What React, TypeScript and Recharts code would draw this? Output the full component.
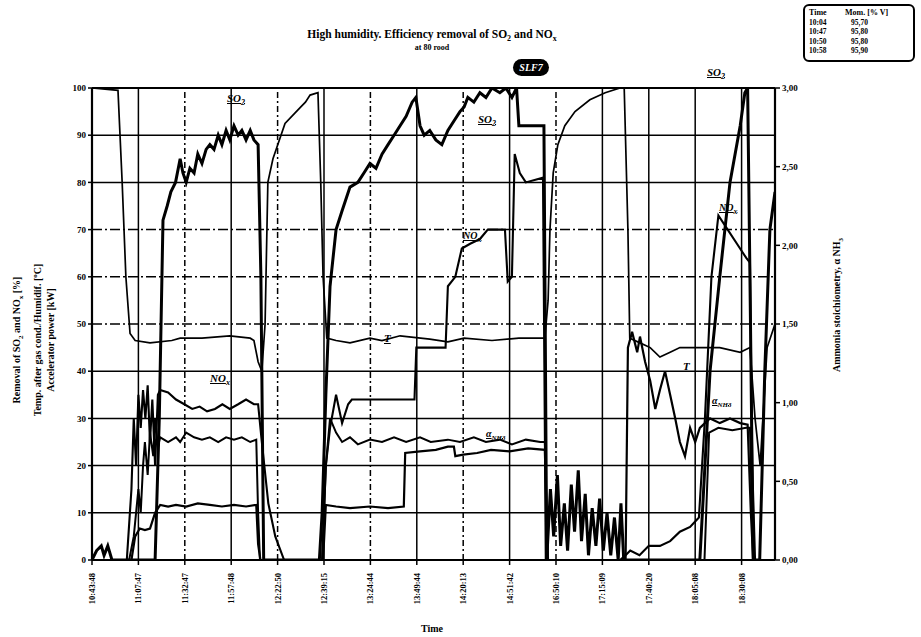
import React from "react";
import { LineChart, Line, XAxis, YAxis, ReferenceLine } from "recharts";

// x is measured in tenths of a tick interval (tick i sits at 10 * i)
const TIME_LABELS = [
  "10:43:48", "11:07:47", "11:32:47", "11:57:48", "12:22:50",
  "12:39:15", "13:24:44", "13:49:44", "14:20:13", "14:51:42",
  "16:50:10", "17:15:09", "17:40:20", "18:05:08", "18:30:08",
];
const X_TICKS = TIME_LABELS.map((_, i) => i * 10);
const LEFT_TICKS = [0, 10, 20, 30, 40, 50, 60, 70, 80, 90, 100];
const RIGHT_TICKS = [0, 0.5, 1, 1.5, 2, 2.5, 3];
const DASHED_ROWS = [50, 60, 70];
const DASHED_COLS = [20, 40, 60, 80, 100];

const SO2 = [
  [0, 0], [1, 2], [2, 3], [2.6, 1], [3.4, 3], [4.3, 0], [13.6, 0], [14.5, 30], [15.3, 72],
  [16.2, 75], [17, 78], [18, 80], [19, 85], [19.6, 82], [20.3, 80], [21.1, 83], [22, 82],
  [22.8, 86], [23.7, 84], [24.6, 87], [25.4, 88], [26.3, 87], [27.2, 90], [28, 88], [28.9, 91],
  [29.7, 89], [30.6, 92], [31.5, 90], [32.3, 91], [33.2, 89], [34.1, 91], [34.9, 89], [35.8, 88],
  [36.4, 60], [37, 0], [49, 0], [49.6, 10], [50.4, 35], [51.3, 58], [52.6, 70], [53.9, 74],
  [55.6, 79], [57.3, 80], [58.6, 82], [59.9, 84], [61.2, 83], [62.5, 86], [63.8, 88], [65.1, 90],
  [66.4, 92], [67.7, 94], [69, 97], [69.8, 98], [70.7, 92], [71.6, 90], [72.8, 91], [74.1, 89],
  [75.4, 88], [76.7, 91], [78, 93], [79.3, 95], [80.2, 96], [81, 98], [82.3, 97], [83.6, 99],
  [84.9, 98], [86.2, 100], [87.9, 99], [89.2, 100], [90.5, 98], [91.5, 100], [92, 92], [93.5, 92],
  [97.4, 92], [98, 0], [98.8, 15], [99.5, 5], [100.3, 18], [101, 3], [101.8, 12], [102.5, 2],
  [103.3, 16], [104, 6], [104.8, 19], [105.5, 4], [106.3, 14], [107, 1], [107.8, 11], [108.6, 3],
  [109.4, 13], [110.2, 2], [111, 10], [111.8, 1], [112.6, 9], [113.4, 0], [114, 12], [114.6, 0],
  [131, 0], [132.1, 20], [133.2, 40], [135.3, 60], [137.5, 80], [139.7, 92], [140.7, 99],
  [141.3, 100], [141.8, 60], [142.5, 0], [143.9, 0], [145, 40], [146.1, 70], [147.2, 78],
];

const TEMP = [
  [0, 100], [5.6, 99.5], [6.5, 80], [7.3, 60], [8.2, 48], [9.3, 46.5], [12.5, 46], [17.2, 46.5],
  [19, 47], [23.7, 47], [29.7, 47.5], [34.1, 47], [34.9, 46.5], [35.8, 42], [36.6, 40],
  [37.3, 50], [37.9, 80], [39, 85], [41.6, 92.5], [44.8, 95.8], [46, 97], [47, 98.5], [48.7, 99],
  [49.3, 80], [49.8, 60], [50.6, 47], [52.6, 46.5], [55.6, 46], [59.9, 47], [62.5, 46.5],
  [66.4, 47.5], [72.8, 46.8], [76.7, 46.2], [80.2, 47], [86.2, 46.5], [92, 47], [97.6, 47],
  [98.3, 55], [98.7, 70], [99.4, 82], [100.4, 88], [101.9, 92], [104.1, 95], [107.3, 97.5],
  [110.6, 99], [113.8, 100], [114.7, 100], [115.5, 70], [115.9, 47], [118.1, 46], [120.3, 45],
  [122.4, 43], [124.6, 44], [126.7, 45], [128.9, 45], [131, 45], [135.3, 45], [139.7, 44],
  [141.8, 45], [142.9, 30], [144, 20], [145.5, 45], [147.2, 50],
];

const POWER = [
  [0, 0], [8, 0], [9, 5], [10, 15], [10.5, 10], [11, 20], [11.4, 25], [12, 18], [12.5, 27],
  [13.2, 22], [13.6, 30], [14.2, 24], [14.7, 26], [16.4, 25], [18.1, 26], [19, 25], [20.3, 27],
  [22, 26], [23.7, 25.5], [25.4, 26], [27.2, 25], [28.9, 26], [30.6, 25.5], [32.3, 26], [34.1, 25],
  [35.4, 25.5], [35.8, 10], [36.2, 0], [49.6, 0], [50.4, 20], [51.3, 30], [52.6, 27], [53.9, 25],
  [55.6, 26], [57.3, 24.5], [59.9, 25.5], [62.5, 25], [65.1, 26], [67.7, 25], [70.7, 26], [73, 25],
  [76.7, 25.5], [79.3, 25], [82.3, 26], [84.9, 25], [87.9, 25.5], [90.5, 24.5], [93.5, 25.5],
  [96.6, 25], [97.6, 25], [98.3, 0], [132, 0], [133, 27], [135, 28], [138, 27.5], [141, 28],
  [141.8, 28], [142.5, 0], [147.2, 0],
];

const NOX = [
  [0, 0], [7.5, 0], [8.5, 15], [9, 30], [9.5, 20], [10, 35], [10.5, 28], [11, 36], [11.5, 30],
  [12, 37], [12.5, 25], [13, 34], [13.6, 20], [14.2, 35], [14.7, 36], [16.4, 35.5], [18.1, 34],
  [19.9, 33], [21.6, 32], [23.2, 32.5], [24.8, 31.5], [26.5, 32], [28.1, 33], [29.7, 32],
  [31.5, 33], [33.2, 34], [34.9, 33], [35.8, 33], [36.6, 25], [38, 12], [39.5, 5], [41.4, 0],
  [49.6, 0], [50.4, 20], [51.3, 28], [52.6, 35], [53.9, 29], [55.2, 33], [56, 34], [69.5, 34],
  [69.9, 45], [76.2, 45], [76.7, 58], [78.3, 60], [79.7, 66], [81.5, 67], [83.6, 68], [85.3, 70],
  [89, 70], [89.6, 59], [90.5, 60], [91.1, 86], [92.2, 82], [93.5, 80], [97.2, 81], [97.8, 0],
  [113.8, 0], [115, 1], [116, 2], [118, 1], [120, 3], [122.4, 3], [124.6, 4], [126.7, 6],
  [128.9, 7], [130.8, 9], [132.1, 30], [133.5, 60], [135, 73], [137, 70], [139, 67], [141, 64],
  [141.8, 63], [142.3, 20], [142.9, 0], [147.2, 0],
];

// ammonia stoichiometry, right axis
const ALPHA = [
  [0, 0], [8.5, 0], [9.3, 0.15], [10.3, 0.2], [11.4, 0.19], [12.5, 0.2], [13.6, 0.3], [14.7, 0.35],
  [16.4, 0.34], [18.1, 0.35], [20.3, 0.34], [22.8, 0.36], [25.4, 0.35], [28, 0.34], [30.6, 0.35],
  [33.2, 0.34], [35.4, 0.35], [35.8, 0.1], [36.3, 0], [49.8, 0], [50.4, 0.35], [52.6, 0.34],
  [55.6, 0.33], [59.9, 0.34], [63.8, 0.33], [67.2, 0.34], [67.5, 0.68], [70.7, 0.69], [74.1, 0.7],
  [76.7, 0.72], [78, 0.72], [78.3, 0.66], [80, 0.67], [83, 0.68], [86, 0.7], [90, 0.69],
  [94, 0.71], [97.6, 0.7], [98.2, 0], [115, 0], [115.5, 1.35], [116.4, 1.45], [117.5, 1.32],
  [118.1, 1.42], [119.2, 1.26], [120.3, 1.14], [121.4, 0.96], [122.4, 1.08], [123.5, 1.2],
  [124.6, 1.05], [125.7, 0.9], [126.7, 0.75], [127.8, 0.66], [128.9, 0.84], [130, 0.75],
  [131, 0.84], [133.2, 0.9], [135.3, 0.87], [137.5, 0.9], [139.7, 0.87], [141.3, 0.86],
  [142, 0.3], [142.5, 0],
];

const toRows = (pts: number[][]) => pts.map(([t, v]) => ({ t, v }));

const FONT = "'Liberation Serif', 'DejaVu Serif', serif";
const tickStyle = { fill: "#000", fontSize: 9, fontWeight: 700, fontFamily: FONT };

const TimeTick = (props: any) => {
  const { x, y, payload } = props;
  return (
    <g transform={`translate(${x},${y})`}>
      <text
        transform="rotate(-90)"
        x={-6}
        y={3}
        textAnchor="end"
        fill="#000"
        fontSize={8.5}
        fontWeight={700}
        fontFamily={FONT}
      >
        {TIME_LABELS[Math.round(payload.value / 10)]}
      </text>
    </g>
  );
};

const note = (left: number, top: number, text: React.ReactNode, size = 11) => (
  <div
    style={{
      position: "absolute",
      left,
      top,
      fontFamily: FONT,
      fontStyle: "italic",
      fontWeight: 700,
      fontSize: size,
      textDecoration: "underline",
      whiteSpace: "nowrap",
    }}
  >
    {text}
  </div>
);

const LEGEND_ROWS = [
  ["10:04", "95,70"],
  ["10:47", "95,80"],
  ["10:50", "95,80"],
  ["10:58", "95,90"],
];

export default function App() {
  return (
    <div
      style={{
        position: "absolute",
        left: 0,
        top: 0,
        width: 921,
        height: 637,
        background: "#fff",
        fontFamily: FONT,
        color: "#000",
      }}
    >
      <LineChart
        width={921}
        height={637}
        margin={{ top: 88, right: 86, bottom: 17, left: 32 }}
      >
        <XAxis
          dataKey="t"
          type="number"
          domain={[0, 147.2]}
          ticks={X_TICKS}
          allowDataOverflow
          height={60}
          tick={<TimeTick />}
          tickSize={5}
          axisLine={{ stroke: "#000", strokeWidth: 2.2 }}
          tickLine={{ stroke: "#000", strokeWidth: 1.5 }}
          interval={0}
        />
        <YAxis
          yAxisId="left"
          domain={[0, 100]}
          ticks={LEFT_TICKS}
          width={60}
          tick={tickStyle}
          tickSize={4}
          axisLine={{ stroke: "#000", strokeWidth: 2.2 }}
          tickLine={{ stroke: "#000", strokeWidth: 1.5 }}
          allowDataOverflow
        />
        <YAxis
          yAxisId="right"
          orientation="right"
          domain={[0, 3]}
          ticks={RIGHT_TICKS}
          width={60}
          tick={tickStyle}
          tickSize={5}
          tickFormatter={(v: number) => v.toFixed(2).replace(".", ",")}
          axisLine={{ stroke: "#000", strokeWidth: 2.2 }}
          tickLine={{ stroke: "#000", strokeWidth: 1.5 }}
          allowDataOverflow
        />
        {LEFT_TICKS.slice(1).map((v) => (
          <ReferenceLine
            key={"h" + v}
            yAxisId="left"
            y={v}
            stroke="#000"
            strokeWidth={v === 100 ? 2.2 : 1.5}
            strokeDasharray={DASHED_ROWS.includes(v) ? "10 3 2 3" : undefined}
          />
        ))}
        {X_TICKS.slice(1).map((v) => (
          <ReferenceLine
            key={"v" + v}
            yAxisId="left"
            x={v}
            stroke="#000"
            strokeWidth={1.5}
            strokeDasharray={DASHED_COLS.includes(v) ? "6 3 2 3" : undefined}
          />
        ))}
        <Line
          yAxisId="left"
          data={toRows(TEMP)}
          dataKey="v"
          name="T"
          type="linear"
          stroke="#000"
          strokeWidth={1.7}
          dot={false}
          isAnimationActive={false}
        />
        <Line
          yAxisId="left"
          data={toRows(POWER)}
          dataKey="v"
          name="Power"
          type="linear"
          stroke="#000"
          strokeWidth={2}
          dot={false}
          isAnimationActive={false}
        />
        <Line
          yAxisId="right"
          data={toRows(ALPHA)}
          dataKey="v"
          name="alpha NH3"
          type="linear"
          stroke="#000"
          strokeWidth={2.2}
          dot={false}
          isAnimationActive={false}
        />
        <Line
          yAxisId="left"
          data={toRows(NOX)}
          dataKey="v"
          name="NOx"
          type="linear"
          stroke="#000"
          strokeWidth={2.1}
          dot={false}
          isAnimationActive={false}
        />
        <Line
          yAxisId="left"
          data={toRows(SO2)}
          dataKey="v"
          name="SO2"
          type="linear"
          stroke="#000"
          strokeWidth={3}
          dot={false}
          isAnimationActive={false}
        />
      </LineChart>

      {/* title */}
      <div
        style={{
          position: "absolute",
          left: 432,
          top: 28,
          transform: "translateX(-50%)",
          fontWeight: 700,
          fontSize: 11.5,
          whiteSpace: "nowrap",
        }}
      >
        High humidity. Efficiency removal of SO<sub style={{ fontSize: 8 }}>2</sub> and NO
        <sub style={{ fontSize: 8 }}>x</sub>
      </div>
      <div
        style={{
          position: "absolute",
          left: 432,
          top: 43,
          transform: "translateX(-50%)",
          fontWeight: 700,
          fontSize: 8,
          whiteSpace: "nowrap",
        }}
      >
        at 80 rood
      </div>
      <div
        style={{
          position: "absolute",
          left: 513,
          top: 59,
          width: 36,
          height: 17,
          borderRadius: 9,
          background: "#000",
          color: "#fff",
          fontStyle: "italic",
          fontWeight: 700,
          fontSize: 10,
          lineHeight: "17px",
          textAlign: "center",
        }}
      >
        SLF7
      </div>

      {/* legend box */}
      <div
        style={{
          position: "absolute",
          left: 803,
          top: 4,
          width: 112,
          height: 58,
          border: "2px solid #000",
          borderRadius: 6,
          fontWeight: 700,
          fontSize: 7.5,
          lineHeight: "9.5px",
          padding: "2px 4px",
          boxSizing: "border-box",
        }}
      >
        <div style={{ display: "flex", fontSize: 8 }}>
          <span style={{ width: 36 }}>Time</span>
          <span>Mom. [% V]</span>
        </div>
        {LEGEND_ROWS.map(([a, b]) => (
          <div key={a} style={{ display: "flex" }}>
            <span style={{ width: 42 }}>{a}</span>
            <span>{b}</span>
          </div>
        ))}
      </div>

      {/* axis titles */}
      <div
        style={{
          position: "absolute",
          left: 34,
          top: 340,
          transform: "translate(-50%,-50%) rotate(-90deg)",
          fontWeight: 700,
          fontSize: 10,
          lineHeight: "13.5px",
          textAlign: "center",
          whiteSpace: "nowrap",
        }}
      >
        Removal of SO<sub style={{ fontSize: 7 }}>2</sub> and NO<sub style={{ fontSize: 7 }}>x</sub> [%]
        <br />
        Temp. after gas cond./Humidif. [<sup style={{ fontSize: 7 }}>o</sup>C]
        <br />
        Accelerator power [kW]
      </div>
      <div
        style={{
          position: "absolute",
          left: 838,
          top: 305,
          transform: "translate(-50%,-50%) rotate(-90deg)",
          fontWeight: 700,
          fontSize: 10,
          whiteSpace: "nowrap",
        }}
      >
        Ammonia stoichiometry, α NH<sub style={{ fontSize: 7 }}>3</sub>
      </div>
      <div
        style={{
          position: "absolute",
          left: 432,
          top: 623,
          transform: "translateX(-50%)",
          fontWeight: 700,
          fontSize: 10,
        }}
      >
        Time
      </div>

      {/* inline curve labels */}
      {note(227, 92, <>SO<sub style={{ fontSize: 8 }}>2</sub></>)}
      {note(478, 113, <>SO<sub style={{ fontSize: 8 }}>2</sub></>)}
      {note(707, 66, <>SO<sub style={{ fontSize: 8 }}>2</sub></>)}
      {note(210, 372, <>NO<sub style={{ fontSize: 8 }}>x</sub></>)}
      {note(463, 230, <>NO<sub style={{ fontSize: 8 }}>x</sub></>, 10)}
      {note(719, 202, <>NO<sub style={{ fontSize: 8 }}>x</sub></>, 10)}
      {note(384, 332, "T")}
      {note(683, 360, "T")}
      {note(486, 428, <>α<sub style={{ fontSize: 7 }}>NH3</sub></>, 10)}
      {note(712, 395, <>α<sub style={{ fontSize: 7 }}>NH3</sub></>, 10)}
    </div>
  );
}
